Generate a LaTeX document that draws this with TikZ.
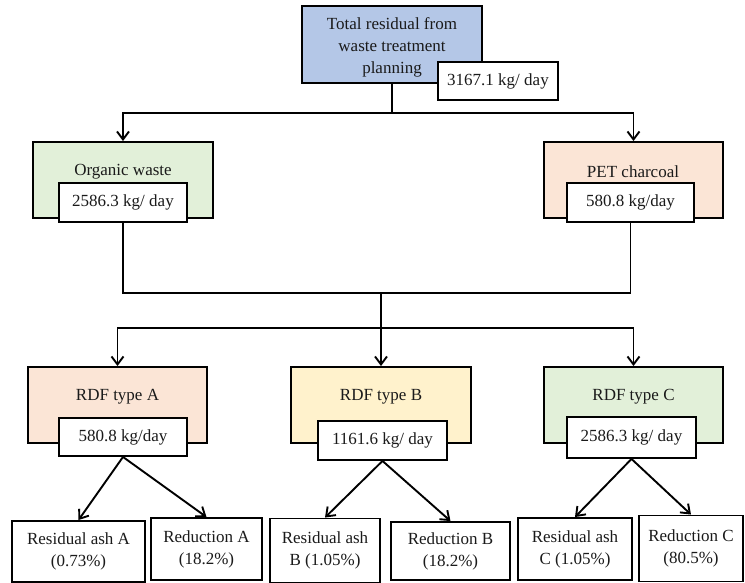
\documentclass[tikz,border=0pt]{standalone}
\usepackage{fontspec}
\setmainfont{Liberation Serif}
\usetikzlibrary{arrows.meta}
\definecolor{cblue}{HTML}{B4C7E7}
\definecolor{cgreen}{HTML}{E2F0D9}
\definecolor{cpeach}{HTML}{FBE5D6}
\definecolor{cyellow}{HTML}{FFF2CC}
\definecolor{ctext}{HTML}{1A1A1A}
\begin{document}
\begin{tikzpicture}[x=1pt,y=-1pt,
  box/.style={draw=black,line width=1.9pt,rectangle,inner sep=0pt},
  valbox/.style={box,fill=white,text=ctext,font=\rmfamily\fontsize{17}{22}\selectfont},
  txt/.style={text=ctext,font=\rmfamily\fontsize{17}{22}\selectfont,align=center,inner sep=0pt},
  conn/.style={line width=1.9pt},
  arr/.style={conn,-{Straight Barb[length=8pt,width=12pt,line width=1.9pt]}}
]
\useasboundingbox (0,0) rectangle (745,583);

% top
\node[box,fill=cblue,minimum width=180pt,minimum height=77pt] (top) at (392,44.5) {};
\node[txt] (toptxt) at (392,47) {Total residual from\\waste treatment\\planning};
\node[valbox,minimum width=120pt,minimum height=38pt] (topv) at (498,81) {3167.1 kg/ day};

% second level
\node[box,fill=cgreen,minimum width=180pt,minimum height=76pt] (org) at (123,180) {};
\node[txt] (orgtxt) at (123,172) {Organic waste};
\node[valbox,minimum width=128pt,minimum height=39pt] (orgv) at (123,202.5) {2586.3 kg/ day};

\node[box,fill=cpeach,minimum width=179pt,minimum height=76pt] (pet) at (633.5,180) {};
\node[txt] (pettxt) at (633,172) {PET charcoal};
\node[valbox,minimum width=127pt,minimum height=39pt] (petv) at (630.5,202.5) {580.8 kg/day};

% RDF level
\node[box,fill=cpeach,minimum width=179pt,minimum height=76pt] (rdfa) at (117.5,405) {};
\node[txt] (rdfatxt) at (117.5,397) {RDF type A};
\node[valbox,minimum width=128pt,minimum height=38pt] (va) at (123,437) {580.8 kg/day};

\node[box,fill=cyellow,minimum width=180pt,minimum height=76pt] (rdfb) at (381,405) {};
\node[txt] (rdfbtxt) at (381,397) {RDF type B};
\node[valbox,minimum width=129pt,minimum height=39pt] (vb) at (382.5,440.5) {1161.6 kg/ day};

\node[box,fill=cgreen,minimum width=179pt,minimum height=76pt] (rdfc) at (633.5,405) {};
\node[txt] (rdfctxt) at (633.5,397) {RDF type C};
\node[valbox,minimum width=129pt,minimum height=41pt] (vc) at (631.5,437.5) {2586.3 kg/ day};

% bottom
\node[valbox,align=center,minimum width=133pt,minimum height=61pt] (resa) at (78.5,551.5) {Residual ash A\\(0.73\%)};
\node[valbox,align=center,minimum width=111pt,minimum height=62pt] (reda) at (206.5,549) {Reduction A\\(18.2\%)};
\node[valbox,align=center,minimum width=110pt,minimum height=64pt] (resb) at (325,550.5) {Residual ash\\B (1.05\%)};
\node[valbox,align=center,minimum width=119pt,minimum height=58pt] (redb) at (450.5,551) {Reduction B\\(18.2\%)};
\node[valbox,align=center,minimum width=114pt,minimum height=62pt] (resc) at (575,549) {Residual ash\\C (1.05\%)};
\node[valbox,align=center,minimum width=104pt,minimum height=66pt] (redc) at (691,548.5) {Reduction C\\(80.5\%)};

% connectors
\coordinate (j1) at (392,113);
\draw[conn] (top.south) -- (j1);
\draw[arr] (j1) -| (org.north);
\draw[arr] (j1) -| (pet.north);

\coordinate (j2) at (381,293);
\coordinate (j3) at (381,328);
\draw[conn] (orgv.south) |- (j2);
\draw[conn] (petv.south) |- (j2);
\draw[arr,line width=2.3pt] (j2) -- (rdfb.north);
\draw[arr] (j3) -| (rdfa.north);
\draw[arr] (j3) -| (rdfc.north);

\draw[arr] (va.south) -- (resa.north);
\draw[arr] (va.south) -- (reda.north);
\draw[arr] (vb.south) -- (resb.north);
\draw[arr] (vb.south) -- (redb.north);
\draw[arr] (vc.south) -- (resc.north);
\draw[arr] (vc.south) -- (redc.north);
\end{tikzpicture}
\end{document}
